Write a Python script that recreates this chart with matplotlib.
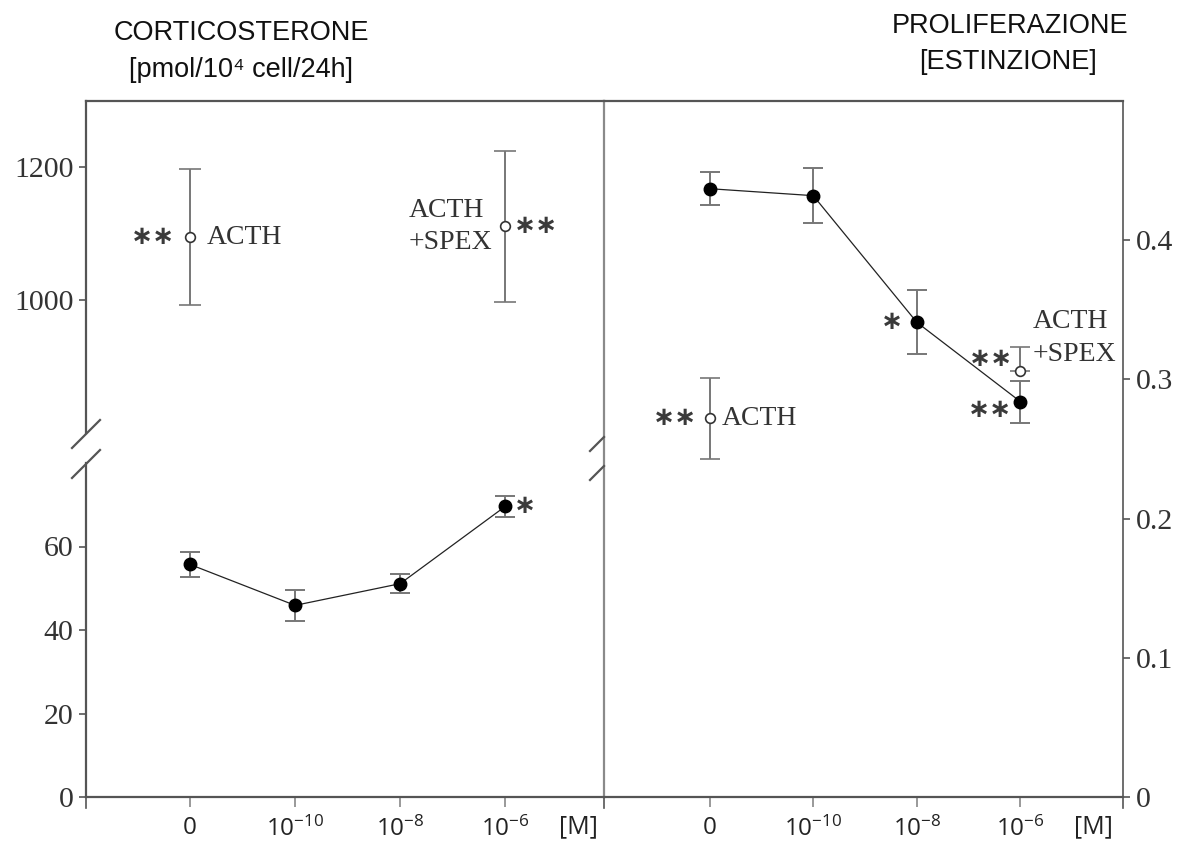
import numpy as np
import matplotlib
matplotlib.use("Agg")
import matplotlib.pyplot as plt
from matplotlib.lines import Line2D

# concentrations (x categories)
conc = [0, 1, 2, 3]
conc_labels = ['0', r'$\mathregular{10^{-10}}$', r'$\mathregular{10^{-8}}$', r'$\mathregular{10^{-6}}$']

# corticosterone, pmol/10^4 cell/24h
cort_mean = [55.7, 45.9, 51.1, 69.6]
cort_err = [3.0, 3.8, 2.3, 2.6]
cort_acth = 1095
cort_acth_err = 102
cort_spex = 1111
cort_spex_err = 114

# proliferation, extinction
prol_mean = [0.437, 0.432, 0.341, 0.284]
prol_err = [0.012, 0.020, 0.023, 0.015]
prol_acth = 0.272
prol_acth_err = 0.029
prol_spex = 0.306
prol_spex_err_up = 0.017

W, H = 1186, 849
fig = plt.figure(figsize=(W / 100, H / 100), dpi=100)
fig.patch.set_facecolor('white')


def rect(x0, y0, x1, y1):
    return [x0 / W, 1 - y1 / H, (x1 - x0) / W, (y1 - y0) / H]


def px(x, y):
    return (x / W, 1 - y / H)


serif = ['Liberation Serif', 'DejaVu Serif']
sans = ['Liberation Sans', 'DejaVu Sans']
xfont = ['Open Sans', 'DejaVu Sans']
star = ['DejaVu Sans']
spine_c = '#555555'
err_c = '#777777'
tick_c = '#333333'
star_kw = dict(textcoords='offset points', ha='center', va='center', fontsize=19,
               family=star, fontweight='bold', color='#3a3a3a')
lab_kw = dict(textcoords='offset points', va='center', fontsize=20, family=serif,
              color='#333333', multialignment='left', linespacing=1.4)

ax_lo = fig.add_axes(rect(86, 463, 604, 797))
ax_hi = fig.add_axes(rect(86, 101, 604, 433))
ax_r = fig.add_axes(rect(604, 101, 1123, 797))

ax_lo.set_xlim(-0.99, 3.94)
ax_hi.set_xlim(-0.99, 3.94)
ax_r.set_xlim(-1.02, 3.99)
ax_lo.set_ylim(0, 80)
ax_hi.set_ylim(800, 1300)
ax_r.set_ylim(0, 0.5)

for ax in (ax_lo, ax_hi, ax_r):
    ax.patch.set_alpha(0)
    for s in ax.spines.values():
        s.set_color(spine_c)
        s.set_linewidth(1.6)

ax_lo.spines['top'].set_visible(False)
ax_lo.spines['right'].set_visible(False)
ax_hi.spines['bottom'].set_visible(False)
ax_hi.spines['right'].set_visible(False)
ax_r.spines['left'].set_color('#8a8a8a')
ax_r.spines['right'].set_linewidth(1.2)

# lower-left: corticosterone basal
ax_lo.plot(conc, cort_mean, color='#222222', lw=0.9, zorder=2)
ax_lo.errorbar(conc, cort_mean, yerr=cort_err, fmt='o', color='black', ms=9,
               ecolor=err_c, elinewidth=1.4, capsize=7, capthick=1.4, zorder=3)
ax_lo.annotate('∗', xy=(conc[3], cort_mean[3]), xytext=(14, 0), **star_kw)

# upper-left: ACTH and ACTH+SPEX
ax_hi.errorbar([conc[0]], [cort_acth], yerr=[cort_acth_err], fmt='o', mfc='white', mec='#333333',
               mew=1.2, ms=7, ecolor=err_c, elinewidth=1.4, capsize=8, capthick=1.4)
ax_hi.errorbar([conc[3]], [cort_spex], yerr=[cort_spex_err], fmt='o', mfc='white', mec='#333333',
               mew=1.2, ms=7, ecolor=err_c, elinewidth=1.4, capsize=8, capthick=1.4)
ax_hi.annotate('∗∗', xy=(conc[0], cort_acth), xytext=(-27, 0), **star_kw)
ax_hi.annotate('ACTH', xy=(conc[0], cort_acth), xytext=(12, 0), ha='left', **lab_kw)
ax_hi.annotate('ACTH\n+SPEX', xy=(conc[3], cort_spex), xytext=(-9, 0), ha='right', **lab_kw)
ax_hi.annotate('∗∗', xy=(conc[3], cort_spex), xytext=(22, 0), **star_kw)

# right: proliferation
ax_r.plot(conc, prol_mean, color='#222222', lw=0.9, zorder=2)
ax_r.errorbar(conc, prol_mean, yerr=prol_err, fmt='o', color='black', ms=9,
              ecolor=err_c, elinewidth=1.4, capsize=7, capthick=1.4, zorder=3)
ax_r.errorbar([conc[0]], [prol_acth], yerr=[prol_acth_err], fmt='o', mfc='white', mec='#333333',
              mew=1.2, ms=7, ecolor=err_c, elinewidth=1.4, capsize=7, capthick=1.4)
ax_r.errorbar([conc[3]], [prol_spex], yerr=[[0], [prol_spex_err_up]], fmt='o', mfc='white',
              mec='#333333', mew=1.2, ms=7, ecolor=err_c, elinewidth=1.4, capsize=7, capthick=1.4)
ax_r.annotate('∗∗', xy=(conc[0], prol_acth), xytext=(-25, 0), **star_kw)
ax_r.annotate('ACTH', xy=(conc[0], prol_acth), xytext=(9, 0), ha='left', **lab_kw)
ax_r.annotate('∗', xy=(conc[2], prol_mean[2]), xytext=(-18, 0), **star_kw)
ax_r.annotate('∗∗', xy=(conc[3], prol_mean[3]), xytext=(-22, -6), **star_kw)
ax_r.annotate('∗∗', xy=(conc[3], prol_spex), xytext=(-21, 9), **star_kw)
ax_r.annotate('ACTH\n+SPEX', xy=(conc[3], prol_spex), xytext=(9, 24), ha='left', **lab_kw)

# ticks
ax_lo.set_yticks([0, 20, 40, 60])
ax_hi.set_yticks([1000, 1200])
ax_hi.set_xticks([])
ax_r.yaxis.tick_right()
ax_r.set_yticks([0, 0.1, 0.2, 0.3, 0.4])
ax_r.set_yticklabels(['0', '0.1', '0.2', '0.3', '0.4'])
for ax in (ax_lo, ax_hi, ax_r):
    ax.tick_params(axis='y', length=5, width=1.2, color=spine_c, pad=4, labelsize=21.5,
                   labelcolor=tick_c)
    for lab in ax.get_yticklabels():
        lab.set_family(serif)
for ax in (ax_lo, ax_r):
    ax.set_xticks(conc)
    ax.set_xticklabels(conc_labels)
    ax.tick_params(axis='x', length=7, width=1.2, color='#888888', pad=7, labelsize=17.5,
                   labelcolor='#222222')
    for lab in ax.get_xticklabels():
        lab.set_family(xfont)

fig.text(*px(578, 827), '[M]', ha='center', va='center', fontsize=18, family=xfont, color='#222222')
fig.text(*px(1093, 827), '[M]', ha='center', va='center', fontsize=18, family=xfont, color='#222222')

# edge ticks below the frame
for x in (86, 604, 1123):
    fig.add_artist(Line2D([x / W, x / W], [1 - 797 / H, 1 - 808 / H], color=spine_c, lw=1.2))

# axis break marks
for (x0, y0, x1, y1) in [(72, 448, 100, 420), (72, 478, 100, 450),
                         (590, 451, 604, 437), (590, 480, 604, 466)]:
    fig.add_artist(Line2D([x0 / W, x1 / W], [1 - y0 / H, 1 - y1 / H], color='#555555', lw=1.6))

# titles
title_kw = dict(ha='center', va='center', fontsize=19.5, family=sans, color='#111111')
fig.text(*px(241, 33), 'CORTICOSTERONE', **title_kw)
fig.text(*px(241, 70), '[pmol/10⁴ cell/24h]', **title_kw)
fig.text(*px(1010, 26), 'PROLIFERAZIONE', **title_kw)
fig.text(*px(1008, 62), '[ESTINZIONE]', **title_kw)

fig.savefig('out.png', dpi=100, facecolor='white')
